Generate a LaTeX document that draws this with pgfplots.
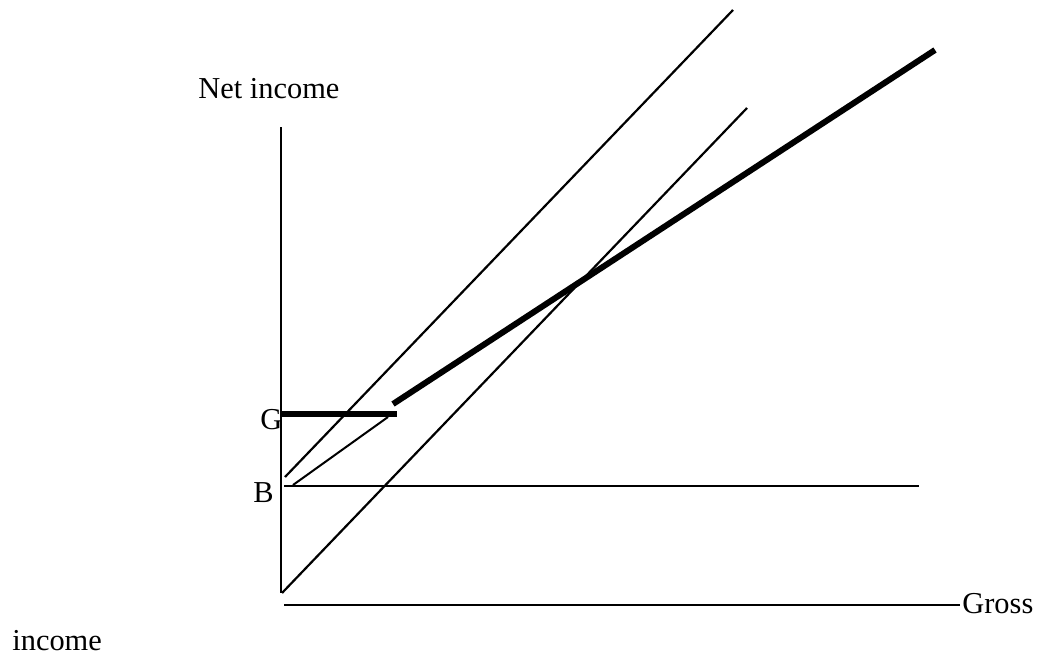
\documentclass[border=0pt]{standalone}
\usepackage{fontspec}
\setmainfont{Liberation Serif}
\usepackage{pgfplots}
\pgfplotsset{compat=1.18}

% coordinates are the reference's pixels (y down), 1 px = 0.5pt
\begin{document}
\begin{tikzpicture}
\begin{axis}[
  scale only axis, width=518.5pt, height=329pt,
  xmin=0, xmax=1037, ymin=0, ymax=658,
  y dir=reverse,
  axis lines=none, clip=false,
  every axis plot/.append style={black, line cap=butt}
]
% axes
\addplot[line width=0.9pt] coordinates {(281,127)(281,593)};
\addplot[line width=0.9pt] coordinates {(284,605)(960,605)};
% B level
\addplot[line width=0.8pt] coordinates {(284,486)(919,486)};
% G level and the net income schedule
\addplot[line width=3pt] coordinates {(281,414)(397,414)};
\addplot[line width=3pt] coordinates {(393,404)(935,50)};
% thin lines
\addplot[line width=1.1pt] coordinates {(285,477)(733,10)};
\addplot[line width=1.1pt] coordinates {(282,593)(747,108)};
\addplot[line width=1pt] coordinates {(293,485)(388,417)};

\node[anchor=base west, inner sep=0pt, font=\fontsize{15.2}{18}\selectfont] at (axis cs:198,98) {Net income};
\node[anchor=base west, inner sep=0pt, font=\fontsize{15.2}{18}\selectfont] at (axis cs:962,613) {Gross};
\node[anchor=base west, inner sep=0pt, font=\fontsize{15.2}{18}\selectfont] at (axis cs:12,650) {income};
\node[anchor=base west, inner sep=0pt, font=\fontsize{15.2}{18}\selectfont] at (axis cs:260,429) {G};
\node[anchor=base west, inner sep=0pt, font=\fontsize{15.2}{18}\selectfont] at (axis cs:253,502) {B};
\end{axis}
\pgfresetboundingbox
\useasboundingbox (current axis.south west) rectangle (current axis.north east);
\end{tikzpicture}
\end{document}
